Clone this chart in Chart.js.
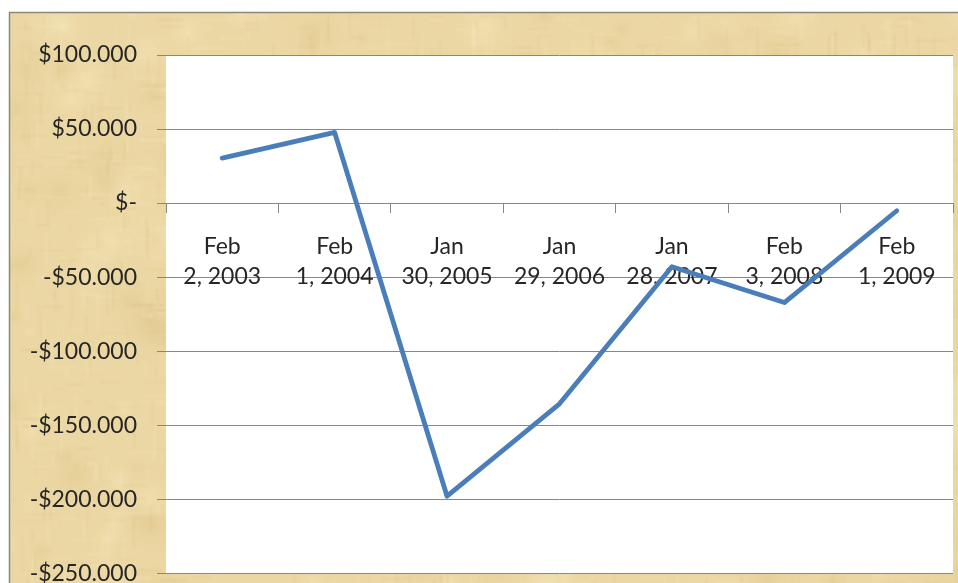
<!DOCTYPE html>
<html>
<head>
<meta charset="utf-8">
<script src="https://cdn.jsdelivr.net/npm/chart.js@4/dist/chart.umd.min.js"></script>
<style>
  html, body { margin: 0; padding: 0; background: #ffffff; }
  #wrap { width: 958px; height: 583px; overflow: hidden; position: relative; }
  canvas { display: block; }
</style>
</head>
<body>
<div id="wrap"><canvas id="chart" width="958" height="607"></canvas></div>
<script>
// Fiscal year-end dates (two-line category labels)
const categories = [
  ['Feb', '2, 2003'],
  ['Feb', '1, 2004'],
  ['Jan', '30, 2005'],
  ['Jan', '29, 2006'],
  ['Jan', '28, 2007'],
  ['Feb', '3, 2008'],
  ['Feb', '1, 2009']
];

// Net result per fiscal year, in dollars
const netValues = [30400, 47700, -198000, -135600, -43000, -67200, -5200];

// Value axis ticks and their printed labels
const yTickValues = [100000, 50000, 0, -50000, -100000, -150000, -200000, -250000];
const yTickLabels = ['$100.000', '$50.000', '$-', '-$50.000', '-$100.000', '-$150.000', '-$200.000', '-$250.000'];

// Parchment texture built once on an offscreen canvas
function makeParchment(w, h) {
  const raw = document.createElement('canvas');
  raw.width = w; raw.height = h;
  const g = raw.getContext('2d');
  g.fillStyle = '#ebd7a3';
  g.fillRect(0, 0, w, h);
  let s = 1234567;
  const rnd = () => { s = (s * 1103515245 + 12345) & 0x7fffffff; return s / 0x7fffffff; };
  // broad blotches
  for (let i = 0; i < 300; i++) {
    const x = rnd() * w, y = rnd() * h, r = 8 + rnd() * 35;
    const light = rnd() > 0.45;
    const grd = g.createRadialGradient(x, y, 0, x, y, r);
    grd.addColorStop(0, light ? 'rgba(248,236,198,0.35)' : 'rgba(212,180,112,0.22)');
    grd.addColorStop(1, 'rgba(235,215,163,0)');
    g.fillStyle = grd;
    g.fillRect(x - r, y - r, 2 * r, 2 * r);
  }
  // woven fibres, both directions
  for (let i = 0; i < 2600; i++) {
    const vertical = i % 2 === 0;
    const x = Math.floor(rnd() * w) + 0.5, y = Math.floor(rnd() * h) + 0.5, len = 4 + rnd() * 30;
    const light = rnd() > 0.5;
    g.strokeStyle = light ? 'rgba(250,240,205,' + (0.15 + rnd() * 0.25) + ')' : 'rgba(205,170,100,' + (0.1 + rnd() * 0.22) + ')';
    g.lineWidth = 1;
    g.beginPath();
    g.moveTo(x, y);
    if (vertical) g.lineTo(x, y + len); else g.lineTo(x + len, y);
    g.stroke();
  }
  const c = document.createElement('canvas');
  c.width = w; c.height = h;
  const g2 = c.getContext('2d');
  g2.filter = 'blur(0.8px)';
  g2.drawImage(raw, 0, 0);
  return c;
}
const parchment = makeParchment(958, 607);

const backdrop = {
  id: 'backdrop',
  beforeDraw(chart) {
    const ctx = chart.ctx;
    const a = chart.chartArea;
    ctx.save();
    ctx.fillStyle = '#ffffff';
    ctx.fillRect(0, 0, chart.width, chart.height);
    ctx.drawImage(parchment, 0, 0, 958, 607, 9, 12, 958, 607);
    ctx.strokeStyle = '#8a8678';
    ctx.lineWidth = 1.5;
    ctx.strokeRect(9.5, 12.5, 1000, 1000);
    ctx.fillStyle = '#ffffff';
    ctx.fillRect(a.left, a.top, a.right - a.left, a.bottom - a.top);
    ctx.restore();
  }
};

const gridGray = '#878787';
const textColor = '#262626';

new Chart(document.getElementById('chart'), {
  type: 'line',
  data: {
    labels: categories,
    datasets: [{
      data: netValues,
      borderColor: '#4a7ebb',
      borderWidth: 4.8,
      tension: 0,
      pointRadius: 0,
      borderJoinStyle: 'round',
      borderCapStyle: 'round',
      fill: false
    }]
  },
  options: {
    responsive: false,
    animation: false,
    layout: { padding: { top: 55, bottom: 20, right: 5, left: 0 } },
    plugins: { legend: { display: false }, tooltip: { enabled: false } },
    scales: {
      x: {
        position: { y: 0 },
        offset: true,
        grid: { display: true, offset: true, drawOnChartArea: false, drawTicks: true, tickLength: 9, color: gridGray, lineWidth: 1 },
        border: { display: true, color: gridGray, width: 1 },
        ticks: {
          color: textColor,
          padding: 20,
          maxRotation: 0,
          autoSkip: false,
          font: { family: 'Lato', size: 23, lineHeight: 1.3 }
        }
      },
      y: {
        min: -250000,
        max: 100000,
        afterFit(scale) { scale.width = 166; },
        afterBuildTicks(scale) { scale.ticks = yTickValues.map(v => ({ value: v })); },
        grid: { display: true, drawTicks: true, tickLength: 9, color: gridGray, lineWidth: 1 },
        border: { display: false },
        ticks: {
          color: textColor,
          padding: 20,
          font: { family: 'Lato', size: 23 },
          callback(value) {
            const i = yTickValues.indexOf(value);
            return i >= 0 ? yTickLabels[i] : '';
          }
        }
      }
    }
  },
  plugins: [backdrop]
});
</script>
</body>
</html>
